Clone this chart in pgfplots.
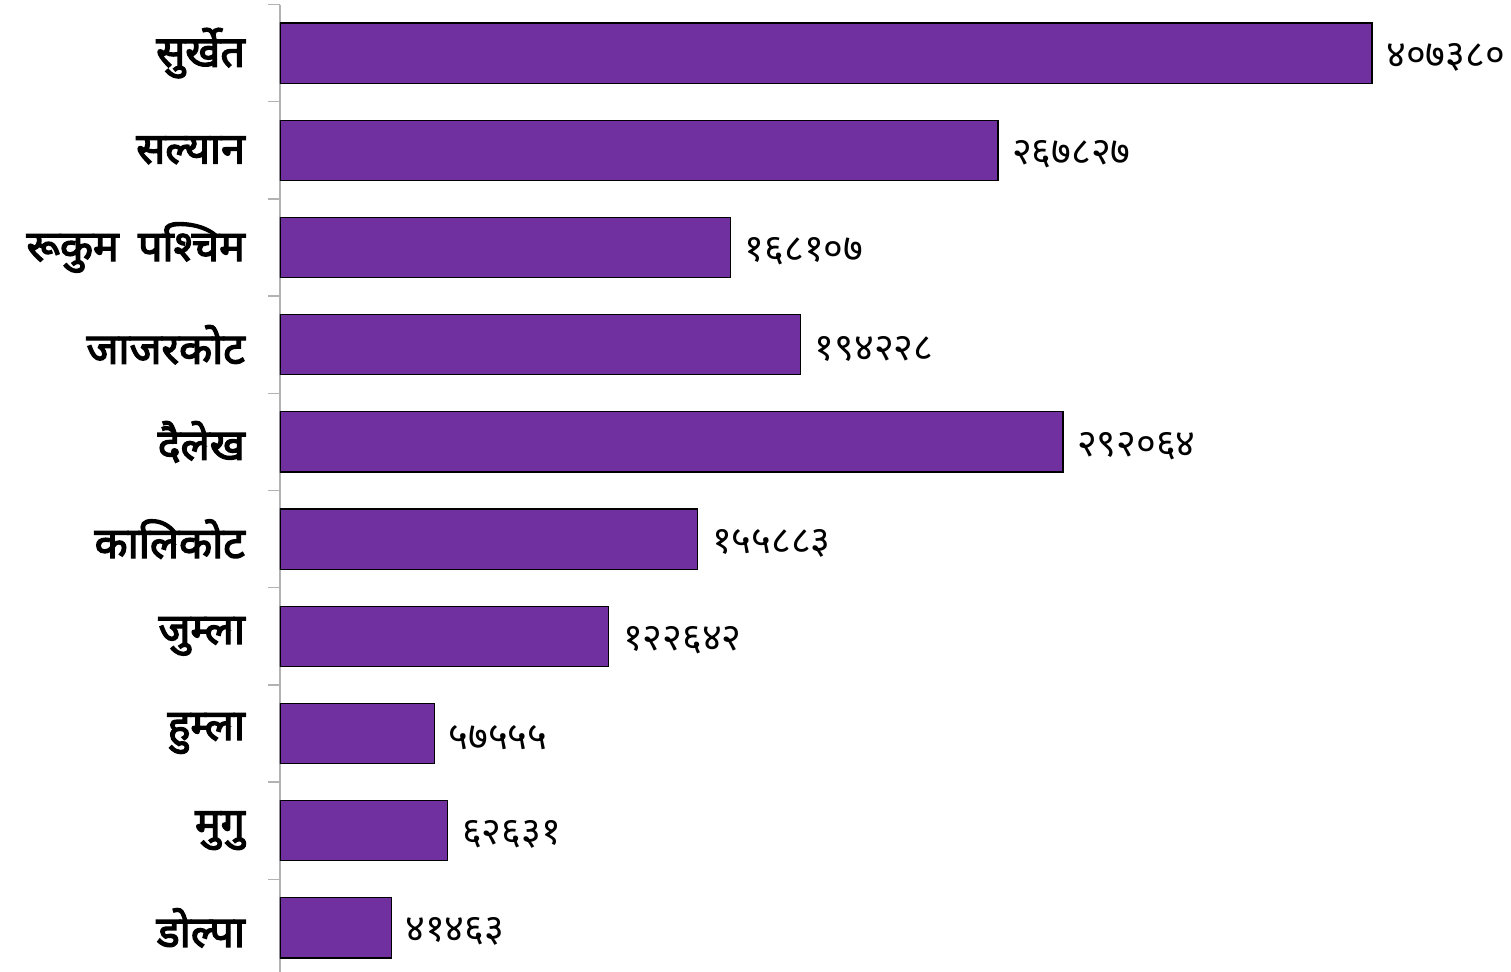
\documentclass[border=0pt]{standalone}
\usepackage{fontspec}
\usepackage{pgfplots}
\pgfplotsset{compat=1.18}
\newfontfamily\deva[Script=Devanagari]{Noto Sans}
\newfontfamily\devab[Script=Devanagari, FakeBold=3]{Noto Sans}
\definecolor{barpurple}{HTML}{7030A0}

\begin{document}
\begin{tikzpicture}
\begin{axis}[
    name=ax,
    at={(0,0)}, anchor=south west,
    scale only axis,
    width=615.5pt, height=486pt,
    xbar, bar width=0.62,
    xmin=0, xmax=459233,
    ymin=-0.5, ymax=9.5,
    y dir=reverse,
    hide x axis,
    axis y line*=left,
    y axis line style={gray!60, line width=0.7pt},
    ytick={0,...,9},
    yticklabels={सुर्खेत, सल्यान, रूकुम\hspace{0.45em}पश्चिम, जाजरकोट, दैलेख, कालिकोट, जुम्ला, हुम्ला, मुगु, डोल्पा},
    yticklabel style={font=\devab\fontsize{21.5}{23}\selectfont, xshift=-14pt},
    major tick length=0pt,
    minor ytick={-0.5,0.5,...,9.5},
    minor tick length=6pt,
    tick align=outside,
    minor tick style={gray!60, line width=0.7pt},
    point meta=explicit symbolic,
    nodes near coords,
    every node near coord/.append style={font=\deva\fontsize{19}{21}\selectfont, anchor=west, xshift=3.5pt, yshift=-2pt},
]
\addplot[fill=barpurple, draw=black, line width=0.6pt] coordinates {
    (407380,0) [४०७३८०]
    (267827,1) [२६७८२७]
    (168107,2) [१६८१०७]
    (194228,3) [१९४२२८]
    (292064,4) [२९२०६४]
    (155883,5) [१५५८८३]
    (122642,6) [१२२६४२]
    (57555,7)  [५७५५५]
    (62631,8)  [६२६३१]
    (41463,9)  [४१४६३]
};
\end{axis}
\pgfresetboundingbox
\path[use as bounding box] (-140pt,2.25pt) rectangle (615.5pt,488.25pt);
\end{tikzpicture}
\end{document}
